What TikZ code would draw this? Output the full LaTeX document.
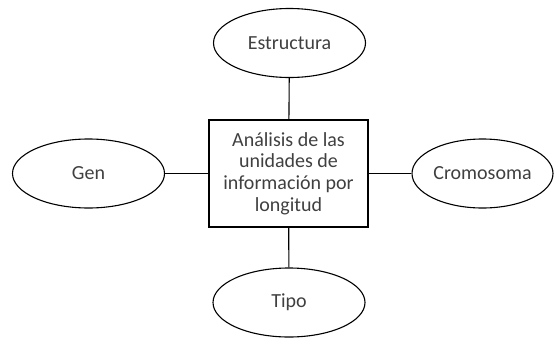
\documentclass[tikz,border=0pt]{standalone}
\usepackage{fontspec}
\setmainfont{Carlito}
\usetikzlibrary{shapes.geometric, positioning}

\begin{document}
\begin{tikzpicture}[x=1pt,y=-1pt,
		atrib/.style={draw, ellipse, line width=1.1pt, minimum width=152pt, minimum height=69pt, inner sep=0pt, text=black!75},
		centro/.style={draw, rectangle, line width=1.1pt, minimum width=159pt, minimum height=107pt, align=center, text=black!75},
		every node/.style={font=\fontsize{20}{21.7}\selectfont}]
		\useasboundingbox (0,0) rectangle (554,338);
		\node[centro] (analisis) at (288.5,173.5) {Análisis de las\\unidades de\\información por\\longitud};
		\node[atrib] (estructura) at (289.5,43) {Estructura};
		\node[atrib] (gen) at (88.5,173.5) {Gen};
		\node[atrib, minimum width=141pt] (cromosoma) at (482.5,173.5) {Cromosoma};
		\node[atrib] (tipo) at (289,302.5) {Tipo};
		%%
		\draw[line width=1.1pt] (analisis)--(estructura);
		\draw[line width=1.1pt] (analisis)--(gen);
		\draw[line width=1.1pt] (analisis)--(cromosoma);
		\draw[line width=1.1pt] (analisis)--(tipo);
	\end{tikzpicture}
\end{document}
